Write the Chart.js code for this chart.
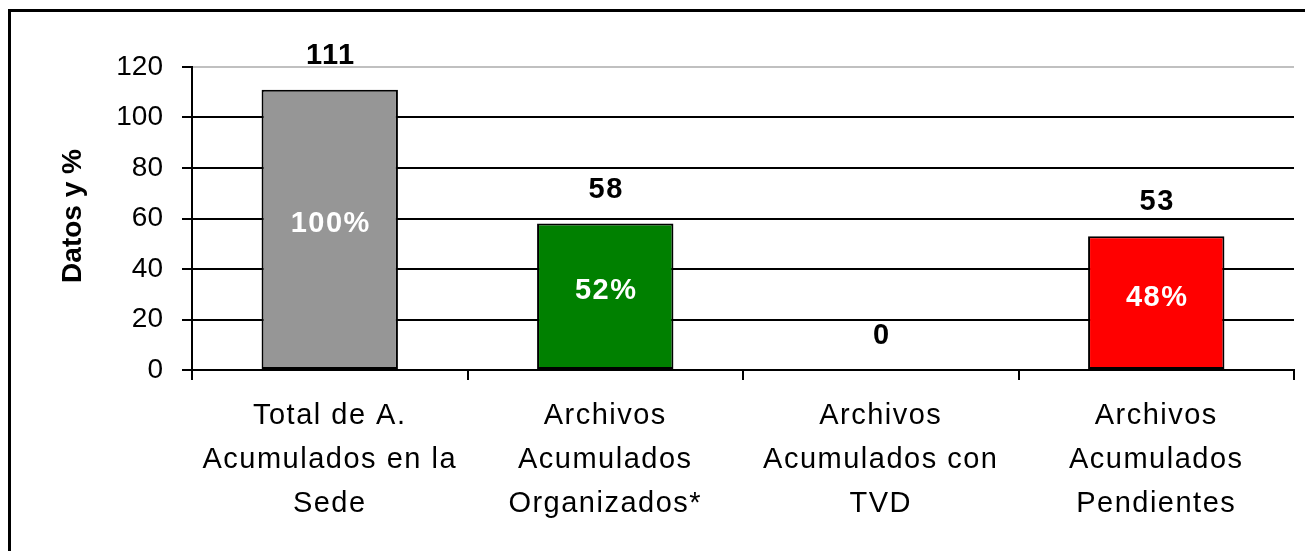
<!DOCTYPE html>
<html>
<head>
<meta charset="utf-8">
<script src="https://cdn.jsdelivr.net/npm/chart.js@4.4.0/dist/chart.umd.min.js"></script>
<style>
    html, body { margin: 0; padding: 0; background: #fff; }
    #wrap { width: 1305px; height: 551px; position: relative; }
</style>
</head>
<body>
<div id="wrap"><canvas id="chart" width="1305" height="551"></canvas></div>
<script>
    const categories = [
        ['Total de A.', 'Acumulados en la', 'Sede'],
        ['Archivos', 'Acumulados', 'Organizados*'],
        ['Archivos', 'Acumulados con', 'TVD'],
        ['Archivos', 'Acumulados', 'Pendientes']
    ];
    const values = [111, 58, 0, 53];
    const percents = ['100%', '52%', null, '48%'];
    const barColors = ['#969696', '#008000', '#ff0000', '#ff0000'];
    const yTicks = [0, 20, 40, 60, 80, 100, 120];

    const FONT = '"Liberation Sans", Arial, sans-serif';

    // outer frame, y title and the value labels
    const decorations = {
        id: 'decorations',
        beforeDraw(chart) {
            const ctx = chart.ctx;
            ctx.save();
            ctx.fillStyle = '#fff';
            ctx.fillRect(0, 0, chart.width, chart.height);
            ctx.strokeStyle = '#000';
            ctx.lineWidth = 3;
            ctx.strokeRect(9.5, 10.5, 1400, 700);
            ctx.restore();
        },
        afterLayout(chart) {
            // the category labels are drawn a bit wider, like the original
            const sx = chart.scales.x;
            if (!sx._spaced) {
                const orig = sx.drawLabels.bind(sx);
                sx.drawLabels = function(area) {
                    chart.ctx.save();
                    chart.ctx.letterSpacing = '1.5px';
                    orig(area);
                    chart.ctx.restore();
                };
                sx._spaced = true;
            }
        },
        afterDatasetsDraw(chart) {
            const ctx = chart.ctx;
            const meta = chart.getDatasetMeta(0);
            ctx.save();
            ctx.textAlign = 'center';
            ctx.letterSpacing = '1.5px';
            meta.data.forEach((bar, i) => {
                ctx.font = 'bold 29px ' + FONT;
                ctx.fillStyle = '#000';
                ctx.textBaseline = 'alphabetic';
                ctx.fillText(String(values[i]), bar.x + 1, bar.y - 26);
                if (percents[i]) {
                    ctx.fillStyle = '#fff';
                    ctx.textBaseline = 'middle';
                    ctx.fillText(percents[i], bar.x + 1, (bar.y + bar.base) / 2 - 5);
                }
            });
            ctx.letterSpacing = '0px';
            ctx.translate(73, 216);
            ctx.rotate(-Math.PI / 2);
            ctx.font = 'bold 28px ' + FONT;
            ctx.fillStyle = '#000';
            ctx.textBaseline = 'middle';
            ctx.fillText('Datos y %', 0, 0);
            ctx.restore();
        }
    };

    new Chart(document.getElementById('chart'), {
        type: 'bar',
        data: {
            labels: categories,
            datasets: [{
                data: values,
                backgroundColor: barColors,
                borderColor: '#000',
                borderWidth: 2,
                borderSkipped: false,
                categoryPercentage: 1,
                barPercentage: 0.495
            }]
        },
        options: {
            responsive: false,
            animation: false,
            layout: { padding: { left: 0, top: 67, right: 11, bottom: 0 } },
            plugins: {
                legend: { display: false },
                tooltip: { enabled: false }
            },
            scales: {
                y: {
                    min: 0,
                    max: 120,
                    afterFit(scale) { scale.width = 192; },
                    afterBuildTicks(scale) {
                        scale.ticks = yTicks.map(v => ({ value: v }));
                    },
                    border: { display: true, color: '#000', width: 2 },
                    grid: {
                        color: c => c.tick && c.tick.value === 120 ? '#c0c0c0' : '#000',
                        tickColor: '#000',
                        lineWidth: 2,
                        tickLength: 10
                    },
                    ticks: {
                        color: '#000',
                        padding: 19,
                        font: { family: FONT, size: 28 }
                    }
                },
                x: {
                    afterFit(scale) { scale.height = 181; },
                    border: { display: true, color: '#000', width: 2 },
                    grid: {
                        offset: true,
                        drawOnChartArea: false,
                        color: '#000',
                        lineWidth: 2,
                        tickLength: 10
                    },
                    ticks: {
                        color: '#000',
                        padding: 14,
                        maxRotation: 0,
                        font: { family: FONT, size: 29, lineHeight: 1.52 }
                    }
                }
            }
        },
        plugins: [decorations]
    });
</script>
</body>
</html>
